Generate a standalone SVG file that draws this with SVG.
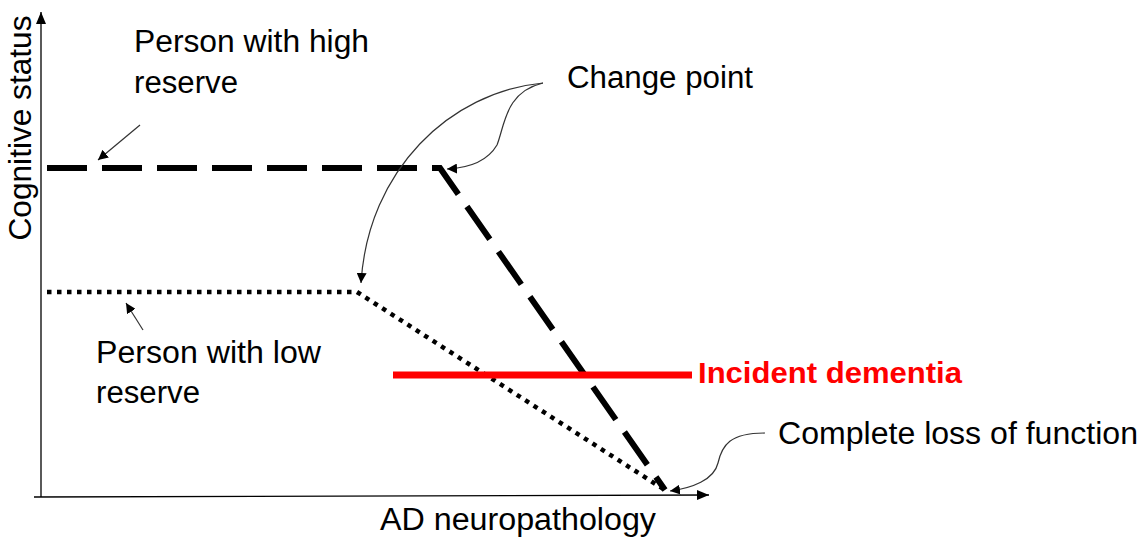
<svg xmlns="http://www.w3.org/2000/svg" width="1144" height="537" viewBox="0 0 1144 537">
<defs>
<marker id="ah" viewBox="0 0 10 10" refX="10" refY="5" markerWidth="10" markerHeight="10" markerUnits="userSpaceOnUse" orient="auto">
<path d="M0,0 L10,5 L0,10 z" fill="#000"/>
</marker>
<marker id="axh" viewBox="0 0 12 10" refX="12" refY="5" markerWidth="12" markerHeight="10" markerUnits="userSpaceOnUse" orient="auto">
<path d="M0,0 L12,5 L0,10 z" fill="#000"/>
</marker>
</defs>
<style>
text{font-family:"Liberation Sans",Arial,sans-serif;font-size:31px;fill:#000}
.thin{fill:none;stroke:#333;stroke-width:1.2}
.axis{fill:none;stroke:#000;stroke-width:1.3}
</style>
<rect width="1144" height="537" fill="#fff"/>
<g id="axes">
<line class="axis" x1="41" y1="497" x2="41" y2="12" marker-end="url(#axh)"/>
<line class="axis" x1="34" y1="497" x2="709" y2="495" marker-end="url(#axh)"/>
</g>
<g id="axis-labels">
<text x="0" y="0" transform="translate(31,128) rotate(-90)" text-anchor="middle" textLength="225" lengthAdjust="spacingAndGlyphs">Cognitive status</text>
<text x="518" y="530" text-anchor="middle" textLength="276" lengthAdjust="spacingAndGlyphs">AD neuropathology</text>
</g>
<g id="high-reserve">
<polyline points="47,168 440,168 665,490" fill="none" stroke="#000" stroke-width="6" stroke-dasharray="40 15"/>
</g>
<g id="low-reserve">
<polyline points="47,292 357,292 668,492" fill="none" stroke="#000" stroke-width="4.5" stroke-dasharray="4.5 5.5"/>
</g>
<g id="incident-dementia">
<line x1="393" y1="375" x2="692" y2="375" stroke="#f00" stroke-width="7"/>
<text x="698" y="383" style="fill:#f00;font-weight:bold;font-size:30px" textLength="264" lengthAdjust="spacingAndGlyphs">Incident dementia</text>
</g>
<g id="labels">
<text x="134" y="52" textLength="235" lengthAdjust="spacingAndGlyphs">Person with high</text>
<text x="134" y="93" textLength="104" lengthAdjust="spacingAndGlyphs">reserve</text>
<text x="96" y="363" textLength="225" lengthAdjust="spacingAndGlyphs">Person with low</text>
<text x="96" y="403" textLength="104" lengthAdjust="spacingAndGlyphs">reserve</text>
<text x="567" y="88" textLength="186" lengthAdjust="spacingAndGlyphs">Change point</text>
<text x="778" y="444" textLength="360" lengthAdjust="spacingAndGlyphs">Complete loss of function</text>
</g>
<g id="connectors">
<line class="thin" x1="140" y1="125" x2="98" y2="160" marker-end="url(#ah)"/>
<line class="thin" x1="143" y1="330" x2="126" y2="303" marker-end="url(#ah)"/>
<path class="thin" d="M543,83 C450,92 368,170 361,283" marker-end="url(#ah)"/>
<path class="thin" d="M543,83 C505,92 505,125 497,145 C487,162 468,168 447,169" marker-end="url(#ah)"/>
<path class="thin" d="M765,433 C730,433 722,445 718,463 C714,480 692,488 670,491" marker-end="url(#ah)"/>
</g>
</svg>
